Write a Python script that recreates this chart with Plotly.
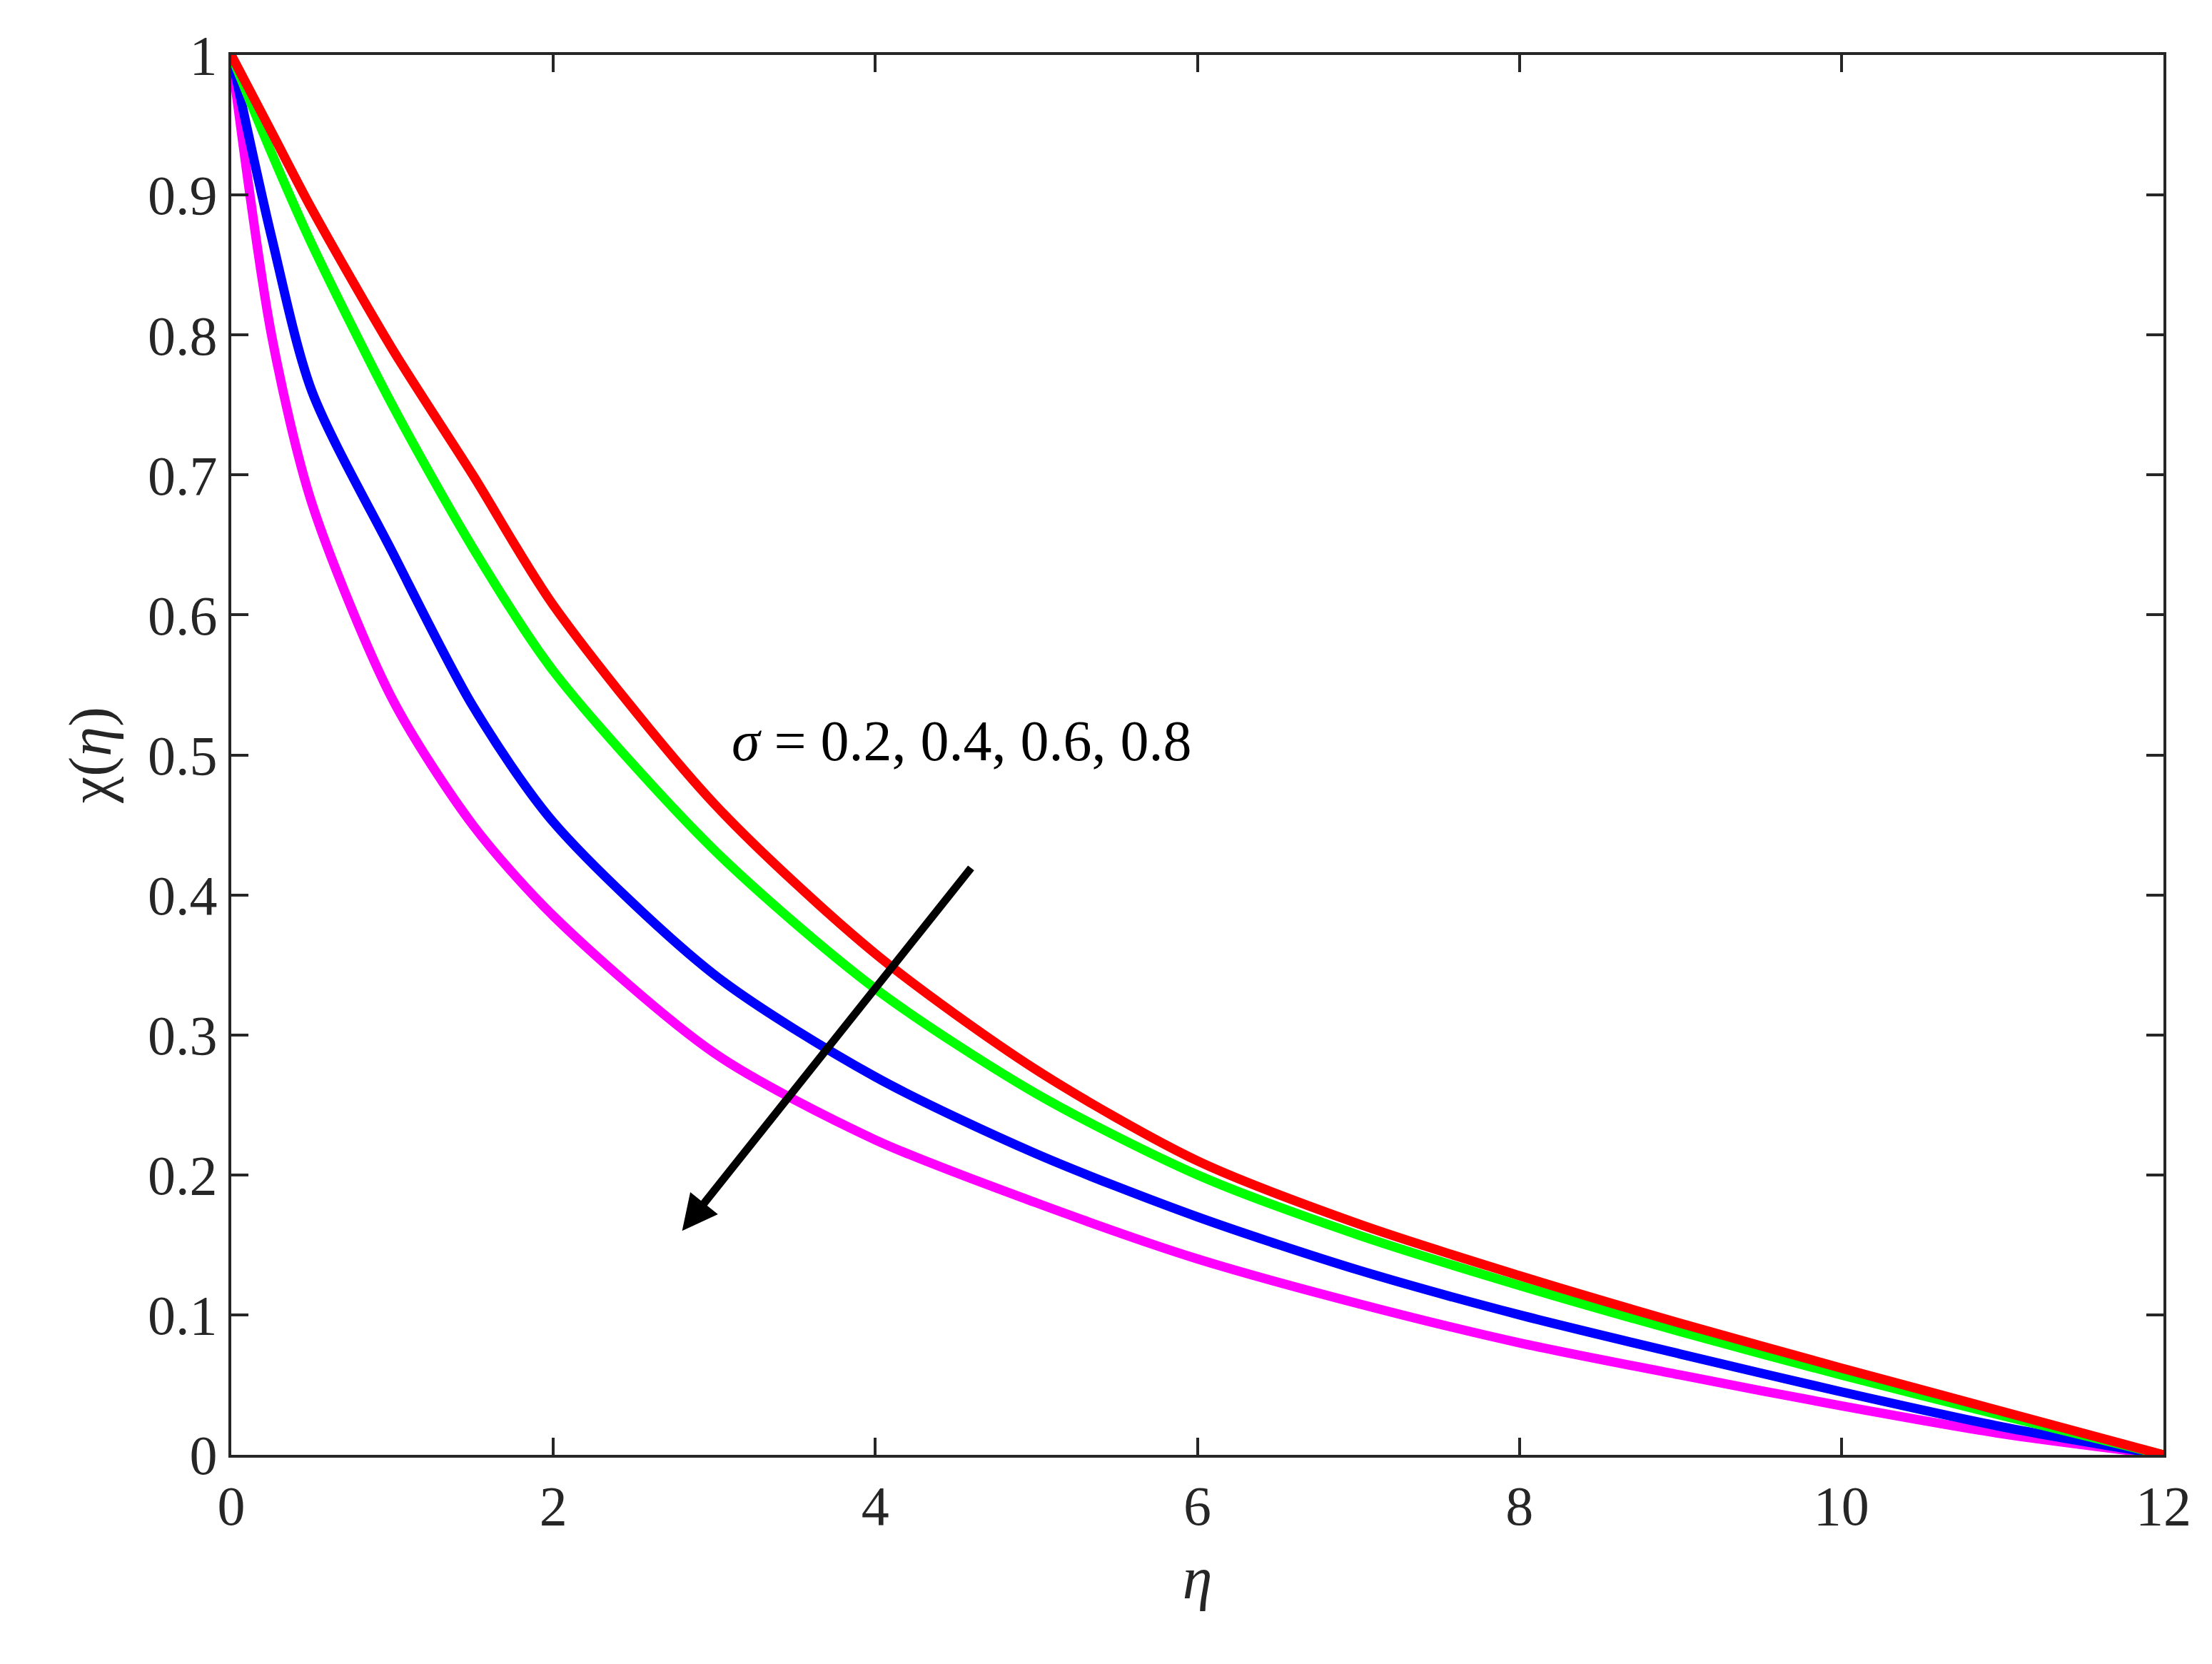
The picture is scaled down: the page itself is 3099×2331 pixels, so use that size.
import plotly.graph_objects as go

eta = [0, 0.25, 0.5, 1, 1.5, 2, 3, 4, 5, 6, 7, 8, 9, 10, 11, 12]
chi_red = [1, 0.945, 0.89, 0.79, 0.70, 0.607, 0.465, 0.358, 0.275, 0.21, 0.165, 0.128, 0.094, 0.062, 0.031, 0]
chi_green = [1, 0.93, 0.865, 0.75, 0.648, 0.56, 0.432, 0.333, 0.258, 0.2, 0.157, 0.121, 0.088, 0.057, 0.028, 0]
chi_blue = [1, 0.87, 0.76, 0.645, 0.535, 0.452, 0.343, 0.27, 0.215, 0.17, 0.132, 0.1, 0.072, 0.045, 0.02, 0]
chi_magenta = [1, 0.8, 0.68, 0.54, 0.45, 0.385, 0.287, 0.225, 0.18, 0.14, 0.108, 0.08, 0.057, 0.035, 0.015, 0]
colors = ["#ff0000", "#00ff00", "#0000ff", "#ff00ff"]
series = [chi_red, chi_green, chi_blue, chi_magenta]

fig = go.Figure()
# draw magenta first so red sits on top like the original
for ys, c in list(zip(series, colors))[::-1]:
    fig.add_trace(go.Scatter(x=eta, y=ys, mode="lines",
                             line=dict(color=c, width=13, shape="spline", smoothing=0.8),
                             showlegend=False))

fig.add_annotation(x=2.8, y=0.16, ax=4.6, ay=0.42, xref="x", yref="y",
                   axref="x", ayref="y", text="", showarrow=True,
                   arrowhead=2, arrowsize=0.9, arrowwidth=11, arrowcolor="black")
fig.add_annotation(x=3.1, y=0.51, xref="x", yref="y", xanchor="left",
                   text="<i>σ</i> = 0.2, 0.4, 0.6, 0.8", showarrow=False,
                   font=dict(size=80, color="black"))

ax = dict(showline=True, linecolor="#262626", linewidth=4, mirror="ticks",
          ticks="inside", ticklen=24, tickwidth=4, tickcolor="#262626",
          showgrid=False, zeroline=False,
          tickfont=dict(size=78, color="#262626"))
fig.update_xaxes(range=[0, 12], tickvals=[0, 2, 4, 6, 8, 10, 12],
                 title=dict(text="<i>η</i>", font=dict(size=84), standoff=30), **ax)
fig.update_yaxes(range=[0, 1], dtick=0.1, tickformat="~g",
                 title=dict(text="χ(<i>η</i>)", font=dict(size=84), standoff=25), **ax)
fig.update_layout(width=3099, height=2331, plot_bgcolor="white", paper_bgcolor="white",
                  font=dict(family="Liberation Serif", color="#262626"),
                  margin=dict(l=316, r=76, t=69, b=301))
fig.write_html("out.html")
